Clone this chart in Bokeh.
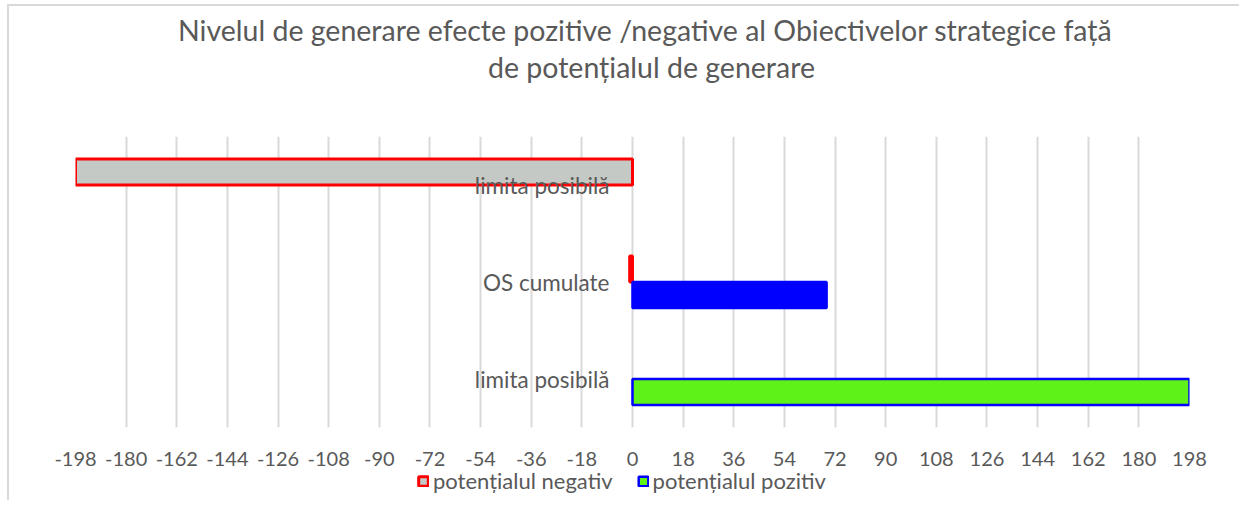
from bokeh.plotting import figure
from bokeh.layouts import column
from bokeh.models import (ColumnDataSource, FixedTicker, Legend, LegendItem,
                          Range1d)
from bokeh.transform import dodge
from bokeh.core.properties import value
from bokeh.embed import file_html
from bokeh.resources import INLINE

# ---- data (top to bottom as drawn) ----
categories = ["limita posibilă", "OS cumulate", "limita posibilă"]
negativ = [-198, -1, 0]
pozitiv = [0, 69, 198]
x_ticks = [-198, -180, -162, -144, -126, -108, -90, -72, -54, -36, -18,
           0, 18, 36, 54, 72, 90, 108, 126, 144, 162, 180, 198]
series_names = ["potențialul negativ", "potențialul pozitiv"]
title_lines = ["Nivelul de generare efecte pozitive /negative al Obiectivelor strategice față",
               "de potențialul de generare"]

# ---- styles ----
neg_fill = ["#c5c9c5", "#c5c9c5", "#c5c9c5"]
neg_line = ["#ff0000", "#ff0000", "#ff0000"]
poz_fill = ["#0000ff", "#0000ff", "#5ef218"]
poz_line = ["#0000ff", "#0000ff", "#0000ff"]
FONT = "Lato"
TXT = "#595959"

W = 1230
TITLE_H = 130
LEG_H = 32


def bare(fig):
    fig.outline_line_color = None
    fig.axis.visible = False
    fig.grid.visible = False
    return fig


# ---- title strip ----
pt = bare(figure(width=W, height=TITLE_H, output_backend="svg", toolbar_location=None,
                 x_range=Range1d(0, W), y_range=Range1d(TITLE_H, 0),
                 min_border=0, background_fill_color="white", border_fill_color="white"))
title_src = ColumnDataSource(dict(
    text=title_lines,
    x=[W / 2 + 14, W / 2 + 21],
    y=[23, 60],
))
pt.text(x="x", y="y", text="text", source=title_src, text_align="center",
        text_baseline="middle", text_color=TXT, text_font=value(FONT),
        text_font_size="28.5px")

# ---- main chart ----
n = len(categories)
ypos = [n - i - 0.5 for i in range(n)]

src = ColumnDataSource(dict(
    y=ypos, cat=categories, neg=negativ, poz=pozitiv,
    neg_fill=neg_fill, neg_line=neg_line, poz_fill=poz_fill, poz_line=poz_line,
    neg_a=[0.0 if v == 0 else 1.0 for v in negativ],
    poz_a=[0.0 if v == 0 else 1.0 for v in pozitiv],
    zero=[0] * n,
))

p = figure(frame_width=1114, frame_height=291,
           output_backend="svg", toolbar_location=None,
           x_range=Range1d(-198, 198), y_range=Range1d(0, n),
           min_border_left=66, min_border_right=50,
           min_border_top=0, min_border_bottom=0,
           background_fill_color="white", border_fill_color="white")
p.outline_line_color = None

bh = 0.268
p.hbar(y=dodge("y", bh / 2), left="zero", right="neg", height=bh,
       source=src, fill_color="neg_fill", line_color="neg_line",
       line_width=3, fill_alpha="neg_a", line_alpha="neg_a")
p.hbar(y=dodge("y", -bh / 2), left="zero", right="poz", height=bh,
       source=src, fill_color="poz_fill", line_color="poz_line",
       line_width=2.5, fill_alpha="poz_a", line_alpha="poz_a")

p.text(x="zero", y="y", text="cat", source=src, x_offset=-23,
       text_align="right", text_baseline="middle", text_color=TXT,
       text_font=value(FONT), text_font_size="22.5px")

# axes / grid
p.yaxis.visible = False
p.ygrid.grid_line_color = None
p.xaxis.axis_label = None
p.xaxis.axis_label_standoff = 0
p.xaxis.ticker = FixedTicker(ticks=x_ticks)
p.xaxis.major_label_overrides = {t: str(t) for t in x_ticks}
p.xgrid.ticker = FixedTicker(ticks=x_ticks)
p.xgrid.grid_line_color = "#d9d9d9"
p.xgrid.grid_line_width = 2
p.xaxis.axis_line_color = None
p.xaxis.major_tick_line_color = None
p.xaxis.minor_tick_line_color = None
p.xaxis.major_tick_out = 0
p.xaxis.major_tick_in = 0
p.xaxis.major_label_standoff = 24
p.xaxis.major_label_text_font = FONT
p.xaxis.major_label_text_font_size = "20px"
p.xaxis.major_label_text_color = TXT

# ---- legend strip (swatches only; the single row is NaN so nothing is plotted) ----
pl = bare(figure(width=W, height=LEG_H, output_backend="svg", toolbar_location=None,
                 x_range=Range1d(0, 1), y_range=Range1d(0, 1),
                 min_border=0, background_fill_color="white", border_fill_color="white"))
nan = float("nan")
swatch = ColumnDataSource(dict(y=[nan], left=[nan], right=[nan]))
sw_neg = pl.hbar(y="y", left="left", right="right", height=0.5, source=swatch,
                 fill_color=neg_fill[0], line_color=neg_line[0], line_width=3)
sw_poz = pl.hbar(y="y", left="left", right="right", height=0.5, source=swatch,
                 fill_color=poz_fill[2], line_color=poz_line[2], line_width=2.5)
legend = Legend(items=[
    LegendItem(label=series_names[0], renderers=[sw_neg]),
    LegendItem(label=series_names[1], renderers=[sw_poz]),
], orientation="horizontal", location=(342, 6), margin=0, padding=0,
    spacing=24, label_standoff=4, glyph_width=12, glyph_height=12,
    label_text_font=FONT, label_text_font_size="22px", label_text_color=TXT,
    border_line_color=None, background_fill_alpha=0, label_height=20)
pl.add_layout(legend, "center")

layout = column(pt, p, pl, spacing=0)
layout.styles = {"margin-left": "7px", "margin-top": "4px",
                 "border-top": "2px solid #d9d9d9", "border-left": "2px solid #d9d9d9"}

open("out.html", "w").write(file_html(layout, INLINE))
